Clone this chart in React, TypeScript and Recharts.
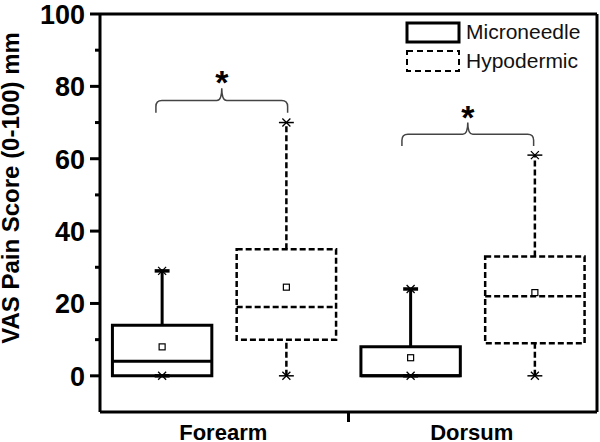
import { ComposedChart, Scatter, XAxis, YAxis, ReferenceArea, ReferenceLine, Legend } from "recharts";

const categories = ["Forearm", "Dorsum"];
const categoryCenters = [0.5, 1.5];
const groups = ["Microneedle", "Hypodermic"];

// values per category: [Forearm, Dorsum]
const microMin = [0, 0];
const microQ1 = [0, 0];
const microMedian = [4, 0];
const microQ3 = [14, 8];
const microMax = [29, 24];
const microMean = [8, 5];

const hypoMin = [0, 0];
const hypoQ1 = [10, 9];
const hypoMedian = [19, 22];
const hypoQ3 = [35, 33];
const hypoMax = [70, 61];
const hypoMean = [24.5, 23];

// significance brackets
const bracketStart = [0.225, 1.215];
const bracketEnd = [0.755, 1.745];
const bracketLow = [72.7, 63.5];
const bracketHigh = [79.5, 70];

const yTicks = [0, 10, 20, 30, 40, 50, 60, 70, 80, 90, 100];
const xTicks = [0.5, 1, 1.5];

const FONT = '"Liberation Sans", Arial, sans-serif';
const groupOffset = [-0.25, 0.25];
const boxHalf = 0.2;
const capHalf = 0.03;
const groupStyle = [
  { sw: 3, dash: undefined as string | undefined, capW: 3.5 },
  { sw: 2.5, dash: "6 3", capW: 1.5 },
];

const stats = [
  { min: microMin, q1: microQ1, median: microMedian, q3: microQ3, max: microMax, mean: microMean },
  { min: hypoMin, q1: hypoQ1, median: hypoMedian, q3: hypoQ3, max: hypoMax, mean: hypoMean },
];

const boxes = groups.flatMap((g, gi) =>
  categories.map((c, ci) => ({
    key: `${g}-${c}`,
    x: categoryCenters[ci] + groupOffset[gi],
    min: stats[gi].min[ci],
    q1: stats[gi].q1[ci],
    median: stats[gi].median[ci],
    q3: stats[gi].q3[ci],
    max: stats[gi].max[ci],
    mean: stats[gi].mean[ci],
    ...groupStyle[gi],
  }))
);

const meanPoints = boxes.map((b) => ({ x: b.x, y: b.mean }));
const extremePoints = boxes.flatMap((b) => [
  { x: b.x, y: b.min },
  { x: b.x, y: b.max },
]);

const YTick = (props: any) => {
  const { x, y, payload } = props;
  const major = payload.value % 20 === 0;
  return (
    <g>
      <line x1={x - (major ? 10 : 5)} x2={x} y1={y} y2={y} stroke="#000" strokeWidth={3} />
      {major && (
        <text x={x - 15} y={y} dy={10} textAnchor="end" fontFamily={FONT} fontWeight="bold" fontSize={27} fill="#000">
          {payload.value}
        </text>
      )}
    </g>
  );
};

const XTick = (props: any) => {
  const { x, y, payload } = props;
  if (payload.value === 1) {
    return <line x1={x} x2={x} y1={y} y2={y + 10} stroke="#000" strokeWidth={3} />;
  }
  const idx = categoryCenters.indexOf(payload.value);
  return (
    <text x={x - 1} y={y + 28} textAnchor="middle" fontFamily={FONT} fontWeight="bold" fontSize={22} fill="#000">
      {categories[idx]}
    </text>
  );
};

const Brace = (props: any) => {
  const { x, y, width, height } = props;
  const mid = y + height / 2;
  const mx = x + width / 2;
  const r = 6;
  const d = `M ${x} ${y + height} L ${x} ${mid + r} Q ${x} ${mid} ${x + r} ${mid} L ${mx - 5} ${mid} Q ${mx} ${mid} ${mx} ${y}
    M ${mx} ${y} Q ${mx} ${mid} ${mx + 5} ${mid} L ${x + width - r} ${mid} Q ${x + width} ${mid} ${x + width} ${mid + r} L ${x + width} ${y + height}`;
  return (
    <g>
      <path d={d} fill="none" stroke="#444" strokeWidth={1.5} />
      <text x={mx} y={y + 6} textAnchor="middle" fontFamily={FONT} fontWeight="bold" fontSize={34} fill="#000">
        *
      </text>
    </g>
  );
};

const LegendBox = () => (
  <svg width={200} height={60}>
    <rect x={7} y={5} width={52} height={19} fill="none" stroke="#000" strokeWidth={3} />
    <text x={66} y={21} fontFamily={FONT} fontSize={21} fill="#111">
      {groups[0]}
    </text>
    <rect x={7} y={33} width={52} height={20} fill="none" stroke="#000" strokeWidth={2} strokeDasharray="6 4" />
    <text x={66} y={50} fontFamily={FONT} fontSize={21} fill="#111">
      {groups[1]}
    </text>
  </svg>
);

export default function App() {
  return (
    <div style={{ position: "absolute", left: 0, top: 0, width: 600, height: 442, background: "#fff" }}>
      <ComposedChart width={600} height={442} margin={{ top: 14, right: 3, bottom: 0, left: 0 }}>
        <XAxis
          type="number"
          dataKey="x"
          domain={[0, 2]}
          ticks={xTicks}
          tick={XTick}
          tickLine={false}
          tickSize={0}
          tickMargin={0}
          height={30}
          axisLine={{ stroke: "#000", strokeWidth: 3 }}
          allowDataOverflow
        />
        <YAxis
          type="number"
          dataKey="y"
          domain={[-10, 100]}
          ticks={yTicks}
          tick={YTick}
          tickLine={false}
          tickSize={0}
          tickMargin={0}
          width={100}
          interval={0}
          axisLine={{ stroke: "#000", strokeWidth: 3 }}
          allowDataOverflow
          label={{
            content: () => (
              <text
                x={19}
                y={188}
                transform="rotate(-90 19 188)"
                textAnchor="middle"
                fontFamily={FONT}
                fontWeight="bold"
                fontSize={24}
                fill="#000"
              >
                VAS Pain Score (0-100) mm
              </text>
            ),
          }}
        />
        <ReferenceLine y={100} stroke="#000" strokeWidth={3} />
        <ReferenceLine x={2} stroke="#000" strokeWidth={3} />

        {boxes.map((b) => (
          <ReferenceArea
            key={`box-${b.key}`}
            x1={b.x - boxHalf}
            x2={b.x + boxHalf}
            y1={b.q1}
            y2={b.q3}
            fill="none"
            fillOpacity={0}
            stroke="#000"
            strokeWidth={b.sw}
            strokeDasharray={b.dash}
          />
        ))}
        {boxes.map((b) => (
          <ReferenceLine
            key={`med-${b.key}`}
            segment={[{ x: b.x - boxHalf, y: b.median }, { x: b.x + boxHalf, y: b.median }]}
            stroke="#000"
            strokeWidth={b.sw}
            strokeDasharray={b.dash}
          />
        ))}
        {boxes.map((b) => (
          <ReferenceLine
            key={`wu-${b.key}`}
            segment={[{ x: b.x, y: b.q3 }, { x: b.x, y: b.max }]}
            stroke="#000"
            strokeWidth={b.sw}
            strokeDasharray={b.dash}
          />
        ))}
        {boxes
          .filter((b) => b.q1 > b.min)
          .map((b) => (
            <ReferenceLine
              key={`wl-${b.key}`}
              segment={[{ x: b.x, y: b.min }, { x: b.x, y: b.q1 }]}
              stroke="#000"
              strokeWidth={b.sw}
              strokeDasharray={b.dash}
            />
          ))}
        {boxes.flatMap((b) =>
          [b.min, b.max].map((v, i) => (
            <ReferenceLine
              key={`cap-${b.key}-${i}`}
              segment={[{ x: b.x - capHalf, y: v }, { x: b.x + capHalf, y: v }]}
              stroke="#000"
              strokeWidth={b.capW}
            />
          ))
        )}
        {categories.map((c, ci) => (
          <ReferenceArea
            key={`brace-${c}`}
            x1={bracketStart[ci]}
            x2={bracketEnd[ci]}
            y1={bracketLow[ci]}
            y2={bracketHigh[ci]}
            shape={Brace}
          />
        ))}

        <Scatter
          data={extremePoints}
          isAnimationActive={false}
          shape={(p: any) => (
            <path
              d={`M ${p.cx - 4} ${p.cy - 4} L ${p.cx + 4} ${p.cy + 4} M ${p.cx - 4} ${p.cy + 4} L ${p.cx + 4} ${p.cy - 4}`}
              stroke="#000"
              strokeWidth={1.3}
            />
          )}
        />
        <Scatter
          data={meanPoints}
          isAnimationActive={false}
          shape={(p: any) => (
            <rect x={p.cx - 3} y={p.cy - 3} width={6} height={6} fill="#fff" stroke="#000" strokeWidth={1.2} />
          )}
        />
        <Legend
          layout="vertical"
          align="center"
          verticalAlign="middle"
          content={LegendBox}
          wrapperStyle={{ left: 400, top: 18, width: 200, height: 60 }}
        />
      </ComposedChart>
    </div>
  );
}
